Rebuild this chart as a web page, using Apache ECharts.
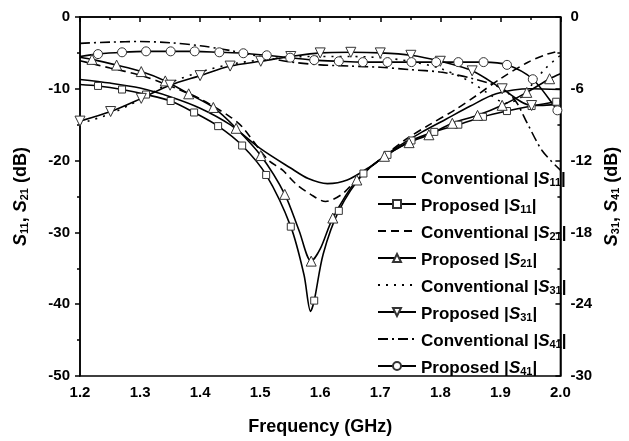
<!DOCTYPE html>
<html><head><meta charset="utf-8">
<script src="https://cdn.jsdelivr.net/npm/echarts@6/dist/echarts.min.js"></script>
<style>html,body{margin:0;padding:0;background:#fff}#c{width:629px;height:441px}</style>
</head><body><div id="c"></div>
<script>
// [frequency GHz, dB, marker flag (0 = no marker)]
const convS11 = [[1.20,-8.7],[1.25,-9.2],[1.30,-9.9],[1.35,-11.1],[1.40,-12.7],[1.45,-15.0],[1.50,-18.3],[1.55,-21.0],[1.58,-22.5],[1.612,-23.2],[1.645,-22.7],[1.682,-20.9],[1.727,-18.2],[1.77,-16.0],[1.81,-14.2],[1.85,-12.4],[1.893,-10.7],[1.95,-10.0],[2.0,-10.1]];
const propS11 = [[1.20,-9.4,0],[1.23,-9.6],[1.27,-10.1],[1.31,-10.8],[1.351,-11.7],[1.39,-13.3],[1.43,-15.2],[1.47,-17.9],[1.51,-22.0],[1.551,-29.2],[1.573,-35.9,0],[1.584,-41.0,0],[1.59,-39.5],[1.605,-33.0,0],[1.631,-27.0],[1.672,-21.8],[1.712,-19.2],[1.752,-17.2],[1.79,-16.0],[1.83,-15.0],[1.871,-13.9],[1.911,-13.1],[1.952,-12.4],[1.993,-11.8],[2.0,-11.7,0]];
const convS21 = [[1.20,-6.1],[1.25,-7.1],[1.30,-8.1],[1.35,-9.6],[1.40,-11.4],[1.45,-13.9],[1.47,-15.3],[1.513,-19.9],[1.537,-21.3],[1.559,-23.2],[1.584,-24.7],[1.609,-25.7],[1.636,-24.7],[1.66,-22.7],[1.70,-19.8],[1.74,-17.2],[1.78,-15.1],[1.825,-12.9],[1.859,-11.0],[1.90,-8.6],[1.946,-6.3],[1.977,-5.2],[2.0,-4.7]];
const propS21 = [[1.20,-5.6,0],[1.22,-5.9],[1.261,-6.7],[1.302,-7.6],[1.342,-8.9],[1.381,-10.7],[1.422,-12.6],[1.46,-15.5],[1.501,-19.3],[1.541,-24.7],[1.565,-29.8,0],[1.585,-34.0],[1.60,-32.3,0],[1.621,-28.0],[1.661,-22.7],[1.707,-19.4],[1.748,-17.5],[1.781,-16.4],[1.82,-14.8],[1.862,-13.7],[1.903,-12.3],[1.944,-10.5],[1.982,-8.6],[2.0,-7.9,0]];
const convS31 = [[1.20,-8.9],[1.25,-8.1],[1.30,-6.9],[1.35,-5.5],[1.40,-4.6],[1.45,-3.95],[1.50,-3.6],[1.55,-3.35],[1.60,-3.3],[1.65,-3.3],[1.70,-3.4],[1.75,-3.7],[1.80,-4.3],[1.85,-5.4],[1.88,-6.4],[1.91,-7.2],[1.935,-6.7],[1.955,-5.5],[1.975,-4.3],[2.0,-3.2]];
const propS31 = [[1.20,-8.7],[1.251,-7.9],[1.302,-6.8],[1.35,-5.7],[1.40,-4.9],[1.45,-4.1],[1.501,-3.7],[1.551,-3.3],[1.60,-3.0],[1.651,-2.95],[1.70,-3.0],[1.751,-3.2],[1.80,-3.7],[1.853,-4.5],[1.903,-6.0],[1.952,-7.4],[2.0,-7.3,0]];
const convS41 = [[1.20,-2.2],[1.25,-2.1],[1.30,-2.05],[1.35,-2.15],[1.40,-2.4],[1.45,-2.8],[1.50,-3.3],[1.55,-3.75],[1.60,-4.0],[1.65,-4.1],[1.70,-4.2],[1.75,-4.4],[1.80,-4.6],[1.85,-5.1],[1.90,-5.9],[1.925,-7.0],[1.945,-8.9],[1.97,-11.2],[2.0,-12.8]];
const propS41 = [[1.20,-3.3,0],[1.23,-3.1],[1.27,-2.95],[1.31,-2.87],[1.351,-2.87],[1.391,-2.87],[1.432,-2.95],[1.472,-3.03],[1.511,-3.2],[1.55,-3.4],[1.59,-3.6],[1.631,-3.7],[1.671,-3.77],[1.712,-3.77],[1.752,-3.77],[1.793,-3.77],[1.83,-3.77],[1.872,-3.77],[1.911,-4.0],[1.954,-5.2],[1.995,-7.8],[2.0,-8.1,0]];

const names = ['Conventional |S11|','Proposed |S11|','Conventional |S21|','Proposed |S21|','Conventional |S31|','Proposed |S31|','Conventional |S41|','Proposed |S41|'];
const xMin = 1.2, xMax = 2.0, xStep = 0.1;
const leftMin = -50, leftMax = 0, leftStep = 10;
const rightMin = -30, rightMax = 0, rightStep = 6;

const FONT = '"Liberation Sans", Arial, sans-serif';
const toData = arr => arr.map(p => p[2] === 0 ? {value:[p[0],p[1]], symbol:'none'} : [p[0],p[1]]);
const mk = {color:'#fff', borderColor:'#333', borderWidth:1};
function line(name, data, axis, type, symbol, size, rot){
  const s = {name, type:'line', yAxisIndex:axis, data:toData(data), smooth:0.3,
    lineStyle:{color:'#000', width:1.6, type:type}, itemStyle:{color:'#000'}, z:3};
  if (symbol){ s.symbol = symbol; s.symbolSize = size; s.showSymbol = true; s.itemStyle = Object.assign({}, mk); if (rot) s.symbolRotate = rot; }
  else { s.symbol = 'none'; s.showSymbol = false; }
  return s;
}
const rich = {
  t:{fontFamily:FONT, fontWeight:'bold', fontSize:17, color:'#000', lineHeight:22, verticalAlign:'bottom'},
  i:{fontFamily:FONT, fontWeight:'bold', fontStyle:'italic', fontSize:17, color:'#000', lineHeight:22, verticalAlign:'bottom'},
  sub:{fontFamily:FONT, fontWeight:'bold', fontSize:11, color:'#000', lineHeight:11, verticalAlign:'bottom'}
};
const toRich = n => n.replace(/^(.*?\|)S(\d\d)\|$/, (m,a,b)=>'{t|'+a+'}{i|S}{sub|'+b+'}{t||}');
const nameRich = {
  t:{fontFamily:FONT, fontWeight:'bold', fontSize:18, color:'#000', lineHeight:22, verticalAlign:'bottom'},
  i:{fontFamily:FONT, fontWeight:'bold', fontStyle:'italic', fontSize:18, color:'#000', lineHeight:22, verticalAlign:'bottom'},
  sub:{fontFamily:FONT, fontWeight:'bold', fontSize:11, color:'#000', lineHeight:11, verticalAlign:'bottom'}
};
const axisFont = {fontFamily:FONT, fontWeight:'bold', fontSize:15, color:'#000'};

const chart = echarts.init(document.getElementById('c'), null, {renderer:'canvas'});
chart.setOption({
  backgroundColor:'#fff',
  animation:false,
  grid:{left:80, right:62, top:17, bottom:58, show:true, borderColor:'#000', borderWidth:1.5, backgroundColor:'transparent'},
  legend:{orient:'vertical', left:372, top:166, itemWidth:38, itemHeight:10, itemGap:10,
    data:names.map(n => n.startsWith('Conventional') ? {name:n, itemStyle:{opacity:0}} : {name:n}),
    formatter:n=>toRich(n), textStyle:{rich:rich}, inactiveColor:'#000'},
  xAxis:{type:'value', min:xMin, max:xMax, interval:xStep,
    name:'Frequency (GHz)', nameLocation:'middle', nameGap:42,
    nameTextStyle:{fontFamily:FONT, fontWeight:'bold', fontSize:18, color:'#000'},
    axisLine:{lineStyle:{color:'#000', width:1.5}},
    axisTick:{inside:false, length:5, lineStyle:{color:'#000', width:1.5}},
    minorTick:{show:true, splitNumber:2, length:3, lineStyle:{color:'#000', width:1.5}},
    splitLine:{show:false},
    axisLabel:Object.assign({margin:9, formatter:v=>v.toFixed(1)}, axisFont)},
  yAxis:[
    {type:'value', min:leftMin, max:leftMax, interval:leftStep, position:'left',
     name:'{i|S}{sub|11}{t|, }{i|S}{sub|21}{t| (dB)}', nameLocation:'middle', nameRotate:90, nameGap:50,
     nameTextStyle:{rich:nameRich},
     axisLine:{show:true, lineStyle:{color:'#000', width:1.5}},
     axisTick:{inside:false, length:5, lineStyle:{color:'#000', width:1.5}},
     minorTick:{show:true, splitNumber:2, length:3, lineStyle:{color:'#000', width:1.5}},
     splitLine:{show:false},
     axisLabel:Object.assign({margin:10}, axisFont)},
    {type:'value', min:rightMin, max:rightMax, interval:rightStep, position:'right',
     name:'{i|S}{sub|31}{t|, }{i|S}{sub|41}{t| (dB)}', nameLocation:'middle', nameRotate:90, nameGap:38,
     nameTextStyle:{rich:nameRich},
     axisLine:{show:true, lineStyle:{color:'#000', width:1.5}},
     axisTick:{inside:true, length:5, lineStyle:{color:'#000', width:1.5}},
     minorTick:{show:true, splitNumber:2, length:3, lineStyle:{color:'#000', width:1.5}},
     splitLine:{show:false},
     axisLabel:Object.assign({margin:10}, axisFont)}
  ],
  series:[
    line(names[0], convS11, 0, 'solid'),
    line(names[1], propS11, 0, 'solid', 'rect', 7),
    line(names[2], convS21, 0, [8,5]),
    line(names[3], propS21, 0, 'solid', 'triangle', 10),
    line(names[4], convS31, 1, [2,6]),
    line(names[5], propS31, 1, 'solid', 'triangle', 10, 180),
    line(names[6], convS41, 1, [10,4,2,4]),
    line(names[7], propS41, 1, 'solid', 'circle', 9)
  ]
});
</script></body></html>
